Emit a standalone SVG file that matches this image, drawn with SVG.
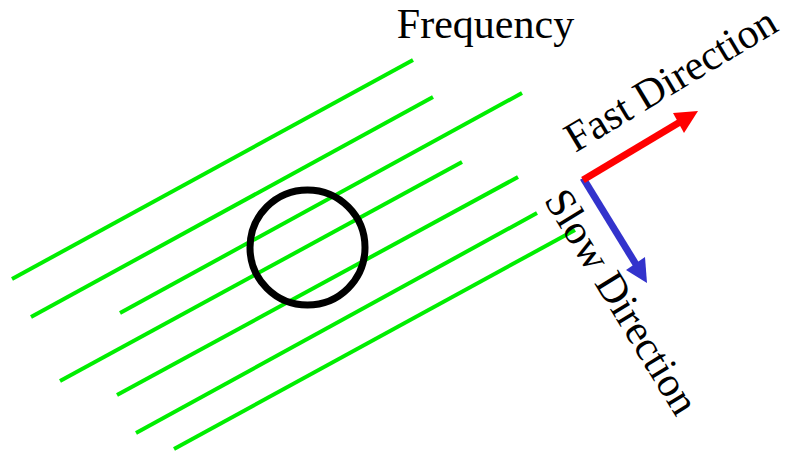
<svg xmlns="http://www.w3.org/2000/svg" width="789" height="453" viewBox="0 0 789 453">
<style>
.g{stroke:#00ee00;stroke-width:4;fill:none}
.t{font-family:"Liberation Serif","Times New Roman",serif;font-size:42px;fill:#000}
</style>
<rect width="789" height="453" fill="#fff"/>
<g id="field-lines">
<line class="g" x1="12" y1="279" x2="413" y2="60"/>
<line class="g" x1="31" y1="317" x2="433" y2="97"/>
<line class="g" x1="120" y1="313" x2="522" y2="93"/>
<line class="g" x1="60" y1="381" x2="462" y2="162"/>
<line class="g" x1="117" y1="395" x2="518" y2="177"/>
<line class="g" x1="136" y1="433" x2="537" y2="213"/>
<line class="g" x1="174" y1="449" x2="575" y2="230"/>
</g>
<g id="circle">
<circle cx="307.5" cy="247.5" r="57.5" fill="none" stroke="#000" stroke-width="7"/>
</g>
<g id="frequency-label">
<text class="t" x="485.5" y="38" text-anchor="middle">Frequency</text>
</g>
<g id="slow-arrow">
<line x1="583" y1="178" x2="637" y2="266" stroke="#3333cc" stroke-width="7"/>
<polygon points="647,283 626,270 645,257" fill="#3333cc"/>
</g>
<g id="fast-arrow">
<line x1="583" y1="180" x2="680" y2="122" stroke="#ff0000" stroke-width="7"/>
<polygon points="698,111 673,113 684,133" fill="#ff0000"/>
</g>
<g id="fast-label">
<text class="t" x="0" y="0" text-anchor="middle" transform="translate(677.8,91.4) rotate(-31)">Fast Direction</text>
</g>
<g id="slow-label">
<text class="t" x="0" y="0" text-anchor="middle" transform="translate(609.8,309) rotate(58.6)">Slow Direction</text>
</g>
</svg>
